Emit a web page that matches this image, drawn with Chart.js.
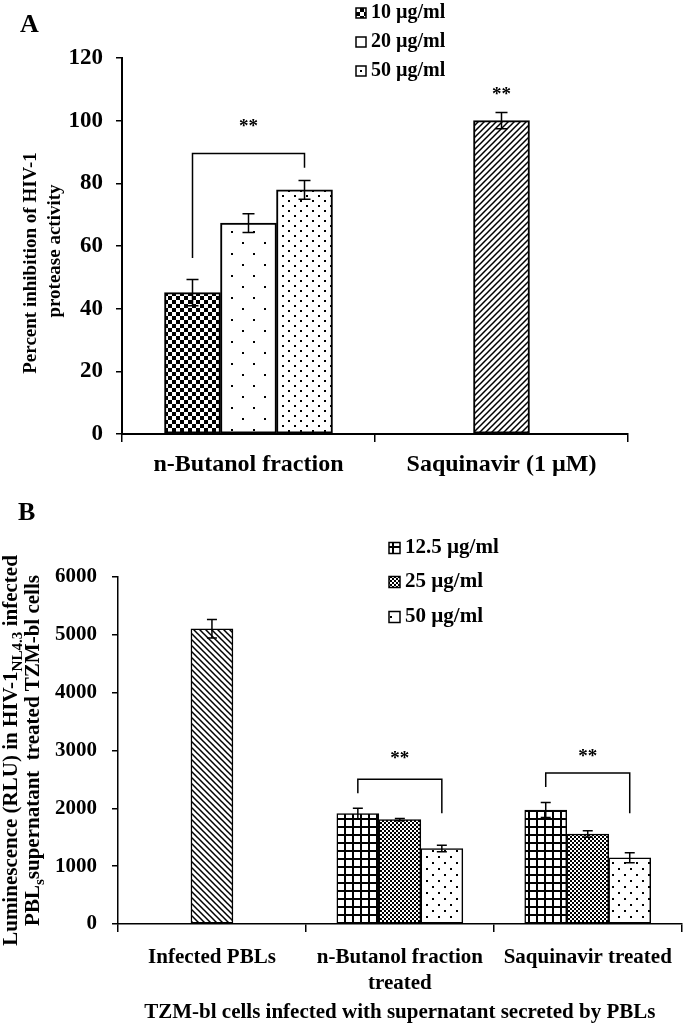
<!DOCTYPE html>
<html>
<head>
<meta charset="utf-8">
<script src="https://cdn.jsdelivr.net/npm/chart.js@4.4.0/dist/chart.umd.min.js"></script>
<style>
    body { margin: 0; background: #fff; width: 685px; height: 1023px; overflow: hidden; position: relative; }
    canvas { position: absolute; left: 0; }
    #chartA { top: 0; }
    #chartB { top: 490px; }
</style>
</head>
<body>
<canvas id="chartA" width="685" height="490"></canvas>
<canvas id="chartB" width="685" height="533"></canvas>
<script>
// ---- Panel A: HIV-1 protease inhibition ----
const groupsA = ['n-Butanol fraction', 'Saquinavir (1 µM)'];
const dosesA = ['10 µg/ml', '20 µg/ml', '50 µg/ml'];
const inhibition10 = [45.1, null];
const inhibition20 = [67.3, null];
const inhibition50 = [77.9, null];
const inhibitionSaq = [null, 100.0];
const sd10 = [4.2, null];
const sd20 = [3.0, null];
const sd50 = [3.0, null];
const sdSaq = [null, 2.6];
const ticksA = [0, 20, 40, 60, 80, 100, 120];
const yTitleA = [
    [{ text: 'Percent inhibition of HIV-1' }],
    [{ text: 'protease activity' }]
];

// ---- Panel B: luminescence in TZM-bl cells ----
const groupsB = [['Infected PBLs'], ['n-Butanol fraction', 'treated'], ['Saquinavir treated']];
const dosesB = ['12.5 µg/ml', '25 µg/ml', '50 µg/ml'];
const rluInfected = [5105, null, null];
const rlu125 = [null, 1910, 1970];
const rlu25 = [null, 1805, 1555];
const rlu50 = [null, 1305, 1145];
const sdInfected = [160, null, null];
const sd125 = [null, 90, 130];
const sd25 = [null, 20, 57];
const sd50B = [null, 57, 86];
const ticksB = [0, 1000, 2000, 3000, 4000, 5000, 6000];
const xTitleB = 'TZM-bl cells infected with supernatant secreted by PBLs';
// y title of B has subscripts, so it is kept as pieces
const yTitleB = [
    [{ text: 'Luminescence (RLU) in HIV-1' }, { text: 'NL4.3', sub: true }, { text: ' infected' }],
    [{ text: 'PBL' }, { text: 's', sub: true }, { text: 'supernatant  treated TZM-bl cells' }]
];

const family = '"Liberation Serif", "Times New Roman", serif';
Chart.defaults.font.family = family;
Chart.defaults.font.weight = 'bold';
Chart.defaults.color = '#000';

// Small black/white tiles used as bar fills
function tile(w, h, draw) {
    const c = document.createElement('canvas');
    c.width = w;
    c.height = h;
    const g = c.getContext('2d');
    g.fillStyle = '#fff';
    g.fillRect(0, 0, w, h);
    g.fillStyle = '#000';
    g.strokeStyle = '#000';
    draw(g, w, h);
    return g.createPattern(c, 'repeat');
}
const checker = n => tile(2 * n, 2 * n, g => { g.fillRect(0, 0, n, n); g.fillRect(n, n, n, n); });
const dots = (w, h, d) => tile(w, h, g => { g.fillRect(0, 0, d, d); g.fillRect(w / 2, h / 2, d, d); });
const gridTile = (s, lw) => tile(s, s, g => { g.fillRect(0, 0, s, lw); g.fillRect(0, 0, lw, s); });
const hatch = (s, lw, back) => tile(s, s, g => {
    g.lineWidth = lw;
    g.beginPath();
    if (back) {
        g.moveTo(-1, -1); g.lineTo(s + 1, s + 1);
        g.moveTo(-1, s - 1); g.lineTo(1, s + 1);
        g.moveTo(s - 1, -1); g.lineTo(s + 1, 1);
    } else {
        g.moveTo(-1, s + 1); g.lineTo(s + 1, -1);
        g.moveTo(-1, 1); g.lineTo(1, -1);
        g.moveTo(s - 1, s + 1); g.lineTo(s + 1, s - 1);
    }
    g.stroke();
});

// Error bars from dataset.errors
const errorBars = {
    id: 'errorBars',
    afterDatasetsDraw(chart, args, opts) {
        const { ctx, scales: { y } } = chart;
        ctx.save();
        ctx.strokeStyle = '#000';
        ctx.lineWidth = opts.width;
        chart.data.datasets.forEach((ds, i) => {
            chart.getDatasetMeta(i).data.forEach((bar, j) => {
                const v = ds.data[j], e = ds.errors[j];
                if (v == null || e == null) return;
                const t = y.getPixelForValue(v + e), b = y.getPixelForValue(v - e), h = opts.cap / 2;
                ctx.beginPath();
                ctx.moveTo(bar.x, t); ctx.lineTo(bar.x, b);
                ctx.moveTo(bar.x - h, t); ctx.lineTo(bar.x + h, t);
                ctx.moveTo(bar.x - h, b); ctx.lineTo(bar.x + h, b);
                ctx.stroke();
            });
        });
        ctx.restore();
    }
};

// Significance brackets and stars (positions in value units)
const sigMarks = {
    id: 'sigMarks',
    afterDatasetsDraw(chart, args, opts) {
        const { ctx, scales: { y } } = chart;
        ctx.save();
        ctx.strokeStyle = '#000';
        ctx.fillStyle = '#000';
        ctx.lineWidth = opts.width;
        ctx.font = `bold ${opts.size}px ${family}`;
        ctx.textAlign = 'center';
        ctx.textBaseline = 'middle';
        opts.marks.forEach(m => {
            const x1 = chart.getDatasetMeta(m.from).data[m.group].x;
            const x2 = chart.getDatasetMeta(m.to).data[m.group].x;
            if (m.top != null) {
                const yt = y.getPixelForValue(m.top);
                ctx.beginPath();
                ctx.moveTo(x1, y.getPixelForValue(m.left));
                ctx.lineTo(x1, yt);
                ctx.lineTo(x2, yt);
                ctx.lineTo(x2, y.getPixelForValue(m.right));
                ctx.stroke();
            }
            ctx.fillText('**', (x1 + x2) / 2, y.getPixelForValue(m.star));
        });
        ctx.restore();
    }
};

// Vertical legend with pattern swatches
const patternLegend = {
    id: 'patternLegend',
    afterDraw(chart, args, opts) {
        const ctx = chart.ctx;
        ctx.save();
        ctx.font = `bold ${opts.size}px ${family}`;
        ctx.textBaseline = 'middle';
        ctx.textAlign = 'left';
        opts.items.forEach((di, k) => {
            const ds = chart.data.datasets[di];
            const cy = opts.y[k], b = opts.box;
            ctx.fillStyle = ds.backgroundColor;
            ctx.fillRect(opts.x, cy - b / 2, b, b);
            ctx.strokeStyle = '#000';
            ctx.lineWidth = 1.5;
            ctx.strokeRect(opts.x, cy - b / 2, b, b);
            ctx.fillStyle = '#000';
            ctx.fillText(ds.label, opts.x + b + opts.gap, cy);
        });
        ctx.restore();
    }
};

// Panel letter
const panelLetter = {
    id: 'panelLetter',
    afterDraw(chart, args, o) {
        const ctx = chart.ctx;
        ctx.save();
        ctx.font = `bold ${o.size}px ${family}`;
        ctx.fillStyle = '#000';
        ctx.textBaseline = 'alphabetic';
        ctx.fillText(o.text, o.x, o.y);
        ctx.restore();
    }
};

// Rotated axis title, line by line, with optional subscripts
const sideTitle = {
    id: 'sideTitle',
    afterDraw(chart, args, o) {
        if (!o.lines) return;
        const ctx = chart.ctx, area = chart.chartArea;
        const mid = (area.top + area.bottom) / 2;
        const fontFor = s => `bold ${s.sub ? o.size * 0.72 : o.size}px ${family}`;
        ctx.save();
        ctx.fillStyle = '#000';
        ctx.textBaseline = 'middle';
        ctx.textAlign = 'left';
        o.lines.forEach((segs, i) => {
            ctx.save();
            ctx.translate(o.x[i], o.cy ? o.cy[i] : mid);
            ctx.rotate(-Math.PI / 2);
            let total = 0;
            segs.forEach(s => { ctx.font = fontFor(s); total += ctx.measureText(s.text).width; });
            let x = -total / 2;
            segs.forEach(s => {
                ctx.font = fontFor(s);
                ctx.fillText(s.text, x, s.sub ? o.size * 0.3 : 0);
                x += ctx.measureText(s.text).width;
            });
            ctx.restore();
        });
        ctx.restore();
    }
};

const axisGrid = (len, lw) => ({ drawOnChartArea: false, drawTicks: true, tickLength: len, color: '#000', lineWidth: lw });

// ---- Chart A ----
new Chart(document.getElementById('chartA'), {
    type: 'bar',
    data: {
        labels: groupsA,
        datasets: [
            { label: dosesA[0], data: inhibition10, errors: sd10, backgroundColor: checker(4) },
            { label: dosesA[1], data: inhibition20, errors: sd20, backgroundColor: dots(22, 22, 2) },
            { label: dosesA[2], data: inhibition50, errors: sd50, backgroundColor: dots(12, 10, 2) },
            { label: groupsA[1], data: inhibitionSaq, errors: sdSaq, backgroundColor: hatch(6, 1.5, false) }
        ]
    },
    options: {
        responsive: false,
        animation: false,
        layout: { padding: { left: 0, top: 58, right: 57, bottom: 0 } },
        datasets: { bar: { barThickness: 56, skipNull: true, borderColor: '#000', borderWidth: 2, borderSkipped: false } },
        scales: {
            x: {
                grid: { ...axisGrid(8, 1.5), offset: true },
                border: { display: true, color: '#000', width: 2 },
                ticks: { font: { size: 24 }, padding: 8 },
                afterFit: s => { s.height = 56; }
            },
            y: {
                min: ticksA[0],
                max: ticksA[ticksA.length - 1],
                grid: axisGrid(6, 1.5),
                border: { display: true, color: '#000', width: 2 },
                ticks: { stepSize: ticksA[1] - ticksA[0], font: { size: 23 }, padding: 13 },
                afterFit: s => { s.width = 122; }
            }
        },
        plugins: {
            legend: { display: false },
            tooltip: { enabled: false },
            errorBars: { width: 1.5, cap: 12 },
            sigMarks: {
                width: 1.5, size: 19,
                marks: [
                    { group: 0, from: 0, to: 2, top: 89.5, left: 56.2, right: 85, star: 97.8 },
                    { group: 1, from: 3, to: 3, star: 108.3 }
                ]
            },
            patternLegend: { items: [0, 1, 2], x: 356, y: [13, 42, 71], box: 10, gap: 5, size: 20 },
            panelLetter: { text: 'A', x: 20, y: 32, size: 26 },
            sideTitle: { lines: yTitleA, x: [31, 55], cy: [263, 251], size: 19 }
        }
    },
    plugins: [errorBars, sigMarks, patternLegend, panelLetter, sideTitle]
});

// ---- Chart B ----
new Chart(document.getElementById('chartB'), {
    type: 'bar',
    data: {
        labels: groupsB,
        datasets: [
            { label: groupsB[0][0], data: rluInfected, errors: sdInfected, backgroundColor: hatch(6, 1.5, true) },
            { label: dosesB[0], data: rlu125, errors: sd125, backgroundColor: gridTile(8, 2) },
            { label: dosesB[1], data: rlu25, errors: sd25, backgroundColor: checker(2) },
            { label: dosesB[2], data: rlu50, errors: sd50B, backgroundColor: dots(12, 12, 2) }
        ]
    },
    options: {
        responsive: false,
        animation: false,
        layout: { padding: { left: 0, top: 87, right: 1, bottom: 0 } },
        datasets: { bar: { barThickness: 42, skipNull: true, borderColor: '#000', borderWidth: 1.5, borderSkipped: false } },
        scales: {
            x: {
                grid: { ...axisGrid(8, 1.5), offset: true },
                border: { display: true, color: '#000', width: 1.5 },
                ticks: { font: { size: 21, lineHeight: 1.24 }, padding: 13 },
                title: { display: true, text: xTitleB, font: { size: 21, lineHeight: 1 }, padding: { top: 0, bottom: 0 } },
                afterFit: s => { s.height = 99; }
            },
            y: {
                min: ticksB[0],
                max: ticksB[ticksB.length - 1],
                grid: axisGrid(6, 1.5),
                border: { display: true, color: '#000', width: 1.5 },
                ticks: { stepSize: ticksB[1] - ticksB[0], font: { size: 21 }, padding: 15, callback: v => String(v) },
                afterFit: s => { s.width = 118; }
            }
        },
        plugins: {
            legend: { display: false },
            tooltip: { enabled: false },
            errorBars: { width: 1.5, cap: 10 },
            sigMarks: {
                width: 1.5, size: 19,
                marks: [
                    { group: 1, from: 1, to: 3, top: 2504, left: 2262, right: 1917, star: 2850 },
                    { group: 2, from: 1, to: 3, top: 2612, left: 2370, right: 1917, star: 2890 }
                ]
            },
            patternLegend: { items: [1, 2, 3], x: 389, y: [58, 92, 127], box: 11, gap: 5, size: 21 },
            panelLetter: { text: 'B', x: 18, y: 30, size: 26 },
            sideTitle: { lines: yTitleB, x: [12, 34], size: 21 }
        }
    },
    plugins: [errorBars, sigMarks, patternLegend, panelLetter, sideTitle]
});
</script>
</body>
</html>
